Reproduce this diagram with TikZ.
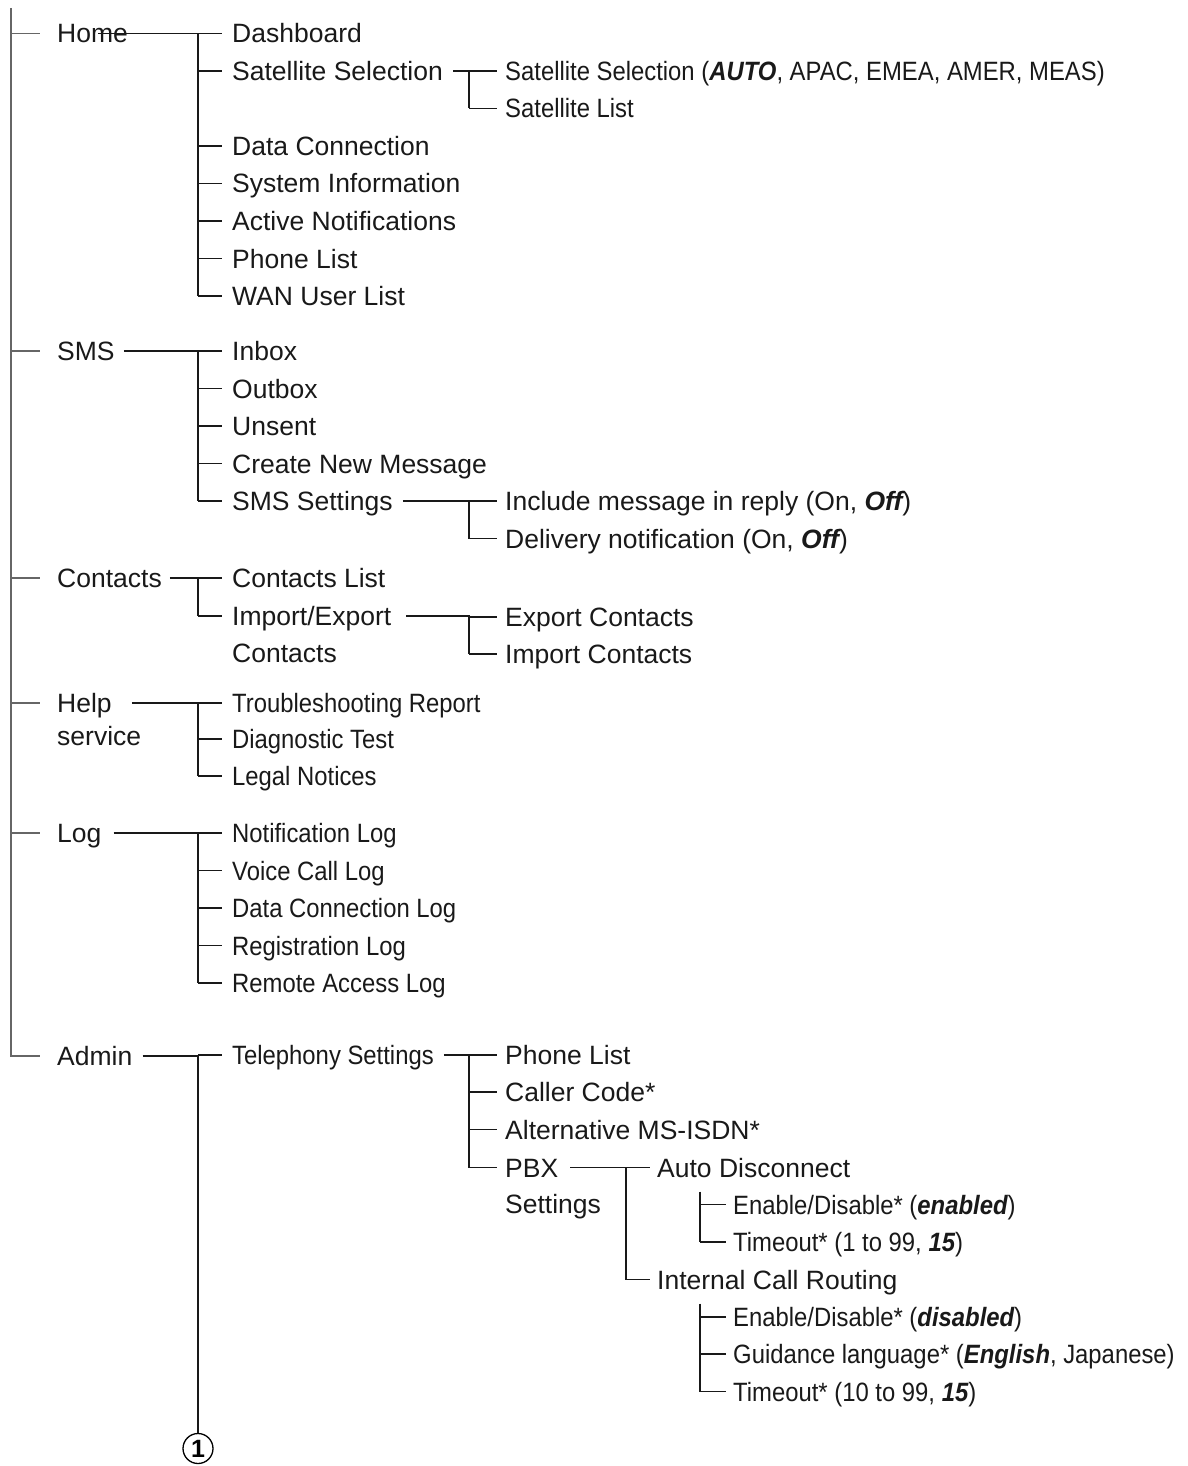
\documentclass[tikz,border=0pt]{standalone}
\usepackage{fontspec}
\setmainfont{Liberation Sans}
\newfontfamily\narrowfont[FakeStretch=0.9]{Liberation Sans}
\usetikzlibrary{calc}
\tikzset{
 item/.style={anchor=west, inner sep=0pt, text height=19pt, text depth=0pt, text=black!90, font=\fontsize{26.5}{30}\selectfont},
 nitem/.style={item, font=\narrowfont\fontsize{26.5}{30}\selectfont},
 conn/.style={line width=1.2pt, draw=black!90},
 mainline/.style={line width=1.7pt, draw=black!60},
}
\newcommand\tk[3]{\draw[conn] (#2.west -| #1) -- ([xshift=-#3pt]#2.west);}
\newcommand\bi[1]{{\bfseries\itshape #1}}
\begin{document}
\begin{tikzpicture}[x=1pt,y=-1pt]
\useasboundingbox (0,0) rectangle (1187,1466);
\coordinate (top) at (11,8);
\coordinate (b0) at (11,0);
\coordinate (b1) at (198,0);
\coordinate (b2) at (469,0);
\coordinate (b3) at (626,0);
\coordinate (b4) at (700,0);

% level 1
\node[item] (home) at (57,33.5) {Home};
\node[item] (sms) at (57,351) {SMS};
\node[item] (contacts) at (57,578) {Contacts};
\node[item] (help) at (57,703) {Help};
\node[item] (help2) at (57,736) {service};
\node[item] (log) at (57,833) {Log};
\node[item] (admin) at (57,1056) {Admin};

% level 2
\node[item] (dash) at (232,33.5) {Dashboard};
\node[item] (satsel) at (232,71) {Satellite Selection};
\node[item] (datacon) at (232,146) {Data Connection};
\node[item] (sysinfo) at (232,183.5) {System Information};
\node[item] (actnot) at (232,221) {Active Notifications};
\node[item] (phonelist) at (232,258.5) {Phone List};
\node[item] (wan) at (232,296) {WAN User List};
\node[item] (inbox) at (232,351) {Inbox};
\node[item] (outbox) at (232,388.5) {Outbox};
\node[item] (unsent) at (232,426) {Unsent};
\node[item] (create) at (232,463.5) {Create New Message};
\node[item] (smsset) at (232,501) {SMS Settings};
\node[item] (clist) at (232,578) {Contacts List};
\node[item] (impexp) at (232,616) {Import/Export};
\node[item] (impexp2) at (232,652.5) {Contacts};
\node[nitem] (trouble) at (232,703) {Troubleshooting Report};
\node[nitem] (diag) at (232,739) {Diagnostic Test};
\node[nitem] (legal) at (232,776) {Legal Notices};
\node[nitem] (notif) at (232,833) {Notification Log};
\node[nitem] (voice) at (232,870.5) {Voice Call Log};
\node[nitem] (datalog) at (232,908) {Data Connection Log};
\node[nitem] (reg) at (232,945.5) {Registration Log};
\node[nitem] (remote) at (232,983) {Remote Access Log};
\node[nitem] (teleph) at (232,1055) {Telephony Settings};

% level 3
\node[nitem] (satsel2) at (505,71) {Satellite Selection (\bi{AUTO}, APAC, EMEA, AMER, MEAS)};
\node[nitem] (satlist) at (505,108.5) {Satellite List};
\node[item] (incl) at (505,501) {Include message in reply (On, \bi{Off})};
\node[item] (deliv) at (505,538.5) {Delivery notification (On, \bi{Off})};
\node[item] (export) at (505,617) {Export Contacts};
\node[item] (import) at (505,654) {Import Contacts};
\node[item] (tphone) at (505,1055) {Phone List};
\node[item] (caller) at (505,1092) {Caller Code*};
\node[item] (alt) at (505,1129.5) {Alternative MS-ISDN*};
\node[item] (pbx) at (505,1167.5) {PBX};
\node[item] (pbx2) at (505,1204) {Settings};

% level 4
\node[item] (autodisc) at (657,1167.5) {Auto Disconnect};
\node[item] (internal) at (657,1279.5) {Internal Call Routing};

% level 5
\node[nitem] (en1) at (733,1204.5) {Enable/Disable* (\bi{enabled})};
\node[nitem] (to1) at (733,1242) {Timeout* (1 to 99, \bi{15})};
\node[nitem] (en2) at (733,1317) {Enable/Disable* (\bi{disabled})};
\node[nitem] (guid) at (733,1354) {Guidance language* (\bi{English}, Japanese)};
\node[nitem] (to2) at (733,1391.5) {Timeout* (10 to 99, \bi{15})};

% circled 1
\node[circle, draw=black, line width=1.3pt, inner sep=0pt, minimum size=30pt,
      font=\bfseries\fontsize{25}{25}\selectfont] (one) at (198,1448.5) {1};

% main bus
\draw[mainline] (top) -- (admin.west -| b0) -- ([xshift=-17pt]admin.west);
\foreach \n in {home,sms,contacts,help,log}
  \draw[mainline] (\n.west -| b0) -- ([xshift=-17pt]\n.west);

% Home
\draw[conn] ([xshift=-30pt]home.east) -- (home.east -| b1) -- (wan.west -| b1);
\foreach \c in {dash,satsel,datacon,sysinfo,actnot,phonelist,wan} {\tk{b1}{\c}{10}}
% Satellite Selection
\draw[conn] ([xshift=10pt]satsel.east) -- (satsel.east -| b2) -- (satlist.west -| b2);
\foreach \c in {satsel2,satlist} {\tk{b2}{\c}{8}}
% SMS
\draw[conn] ([xshift=9pt]sms.east) -- (sms.east -| b1) -- (smsset.west -| b1);
\foreach \c in {inbox,outbox,unsent,create,smsset} {\tk{b1}{\c}{10}}
% SMS Settings
\draw[conn] ([xshift=10pt]smsset.east) -- (smsset.east -| b2) -- (deliv.west -| b2);
\foreach \c in {incl,deliv} {\tk{b2}{\c}{8}}
% Contacts
\draw[conn] ([xshift=8pt]contacts.east) -- (contacts.east -| b1) -- (impexp.west -| b1);
\foreach \c in {clist,impexp} {\tk{b1}{\c}{10}}
% Import/Export
\draw[conn] ([xshift=15pt]impexp.east) -- (impexp.east -| b2) -- (import.west -| b2);
\foreach \c in {export,import} {\tk{b2}{\c}{8}}
% Help
\draw[conn] ([xshift=20pt]help.east) -- (help.east -| b1) -- (legal.west -| b1);
\foreach \c in {trouble,diag,legal} {\tk{b1}{\c}{10}}
% Log
\draw[conn] ([xshift=12pt]log.east) -- (log.east -| b1) -- (remote.west -| b1);
\foreach \c in {notif,voice,datalog,reg,remote} {\tk{b1}{\c}{10}}
% Admin
\draw[conn] ([xshift=10pt]admin.east) -- (admin.east -| b1) -- (one.north);
\tk{b1}{teleph}{10}
% Telephony Settings
\draw[conn] ([xshift=10pt]teleph.east) -- (teleph.east -| b2) -- (pbx.west -| b2);
\foreach \c in {tphone,caller,alt,pbx} {\tk{b2}{\c}{8}}
% PBX Settings
\draw[conn] ([xshift=12pt]pbx.east) -- (pbx.east -| b3) -- (internal.west -| b3);
\foreach \c in {autodisc,internal} {\tk{b3}{\c}{7}}
% Auto Disconnect
\draw[conn] ($(autodisc.west -| b4)+(0,24)$) -- (to1.west -| b4);
\foreach \c in {en1,to1} {\tk{b4}{\c}{7}}
% Internal Call Routing
\draw[conn] ($(internal.west -| b4)+(0,24)$) -- (to2.west -| b4);
\foreach \c in {en2,guid,to2} {\tk{b4}{\c}{7}}
\end{tikzpicture}
\end{document}
